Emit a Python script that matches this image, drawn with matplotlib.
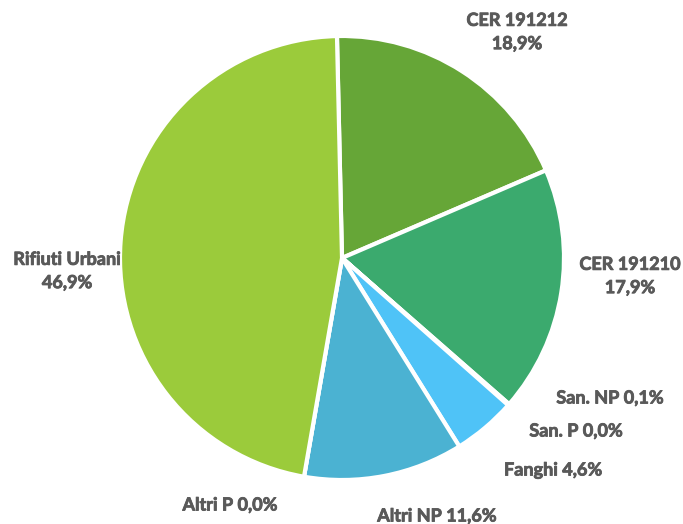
import matplotlib.pyplot as plt
import matplotlib.patheffects as pe

# Ripartizione rifiuti (valori in %)
categories = ["CER 191212", "CER 191210", "San. NP", "San. P", "Fanghi",
              "Altri NP", "Altri P", "Rifiuti Urbani"]
values = [18.9, 17.9, 0.1, 0.0, 4.6, 11.6, 0.0, 46.9]
colors = ["#66A637", "#3BAA6E", "#5B9BD5", "#2E75B6", "#4FC3F7",
          "#4BB2D2", "#2F5597", "#9BCB3B"]
# label text and two-line layout as in the source
label_texts = ["CER 191212\n18,9%", "CER 191210\n17,9%", "San. NP 0,1%",
               "San. P 0,0%", "Fanghi 4,6%", "Altri NP 11,6%",
               "Altri P 0,0%", "Rifiuti Urbani\n46,9%"]
# label centres, in pixels from top-left of the image
label_pos = [(517, 32), (630, 276), (610, 398), (576, 431), (553, 470),
             (437, 516), (230, 505), (67, 271)]

W, H = 683, 524
fig = plt.figure(figsize=(W / 100, H / 100), dpi=100)
ax = fig.add_axes([0, 0, 1, 1])

ax.pie(values, colors=colors, startangle=91.3, counterclock=False,
       center=(342, H - 258), radius=222,
       wedgeprops=dict(edgecolor="white", linewidth=3))

for txt, (px, py) in zip(label_texts, label_pos):
    ax.text(px, H - py, txt, ha="center", va="center", fontsize=13,
            fontweight="bold", color="#595959", family="Lato",
            linespacing=1.45,
            path_effects=[pe.withStroke(linewidth=0.6, foreground="#595959")])

ax.set_xlim(0, W)
ax.set_ylim(0, H)
ax.set_aspect("equal")
ax.axis("off")

fig.savefig("out.png", dpi=100)
